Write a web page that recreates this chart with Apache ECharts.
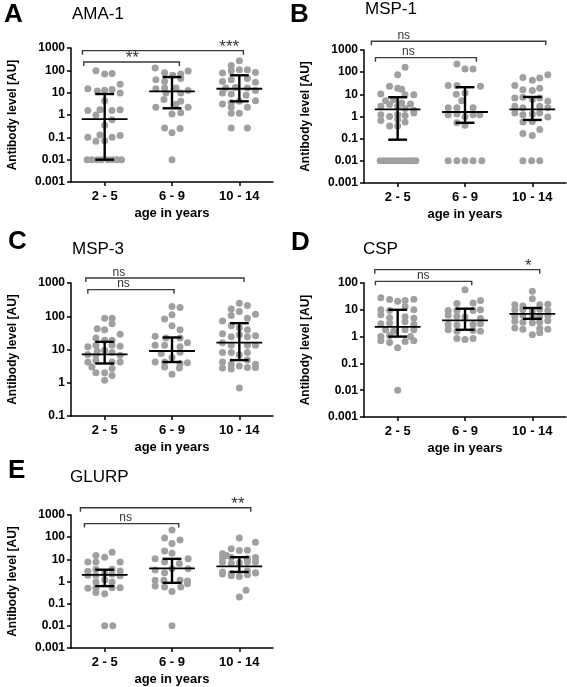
<!DOCTYPE html>
<html><head><meta charset="utf-8">
<script src="https://cdn.jsdelivr.net/npm/echarts@6/dist/echarts.min.js"></script>
<style>html,body{margin:0;padding:0;background:#fff}#c{width:567px;height:687px}</style>
</head><body><div id="c"></div>
<script>
// ---------- DATA ----------
const categories = ['2 - 5', '6 - 9', '10 - 14'];
const yTitle = 'Antibody level [AU]';
const xTitle = 'age in years';

// points: [beeswarm offset within group, antibody level]
const ama1_25 = [[-0.13,97],[0,69],[0.11,73],[0.23,24],[-0.25,15],[-0.11,12],[0,12.7],[0.11,14],[0.23,9.7],[0,4.4],[-0.25,1.6],[-0.07,1.7],[0.11,1.6],[0.23,1.7],[-0.13,1.0],[0.11,0.62],[0,0.35],[-0.25,0.1],[-0.07,0.126],[0.11,0.1],[0.23,0.12],[-0.13,0.066],[0,0.07],[-0.26,0.01],[-0.19,0.01],[-0.11,0.01],[-0.05,0.01],[0.05,0.01],[0.12,0.01],[0.18,0.01],[0.25,0.01]];
const ama1_69 = [[-0.25,126],[-0.11,78],[0.01,60],[0.13,69],[0.24,93],[-0.24,38],[-0.11,32],[0.13,43],[-0.24,15],[-0.11,16],[0.06,16],[0.24,12.6],[-0.09,9.7],[0.13,9.7],[-0.12,5.0],[0.13,4.1],[0.06,3.0],[-0.24,2.2],[0.24,2.2],[0,1.1],[0.13,1.25],[-0.11,0.26],[0,0.16],[0.12,0.25],[0,0.01]];
const ama1_1014 = [[0,270],[-0.12,166],[-0.25,76],[-0.12,97],[0,107],[0.12,107],[0.24,81],[-0.25,32],[-0.12,38],[0.12,43],[0.24,29],[-0.2,16],[-0.06,17],[0.12,16],[0.24,12.6],[-0.25,9.7],[-0.12,8.7],[0.1,7.6],[-0.25,3.1],[-0.12,3.5],[0,4.1],[0.24,4.4],[-0.12,2.2],[0.12,2.2],[-0.12,1.2],[0,1.2],[-0.12,0.26],[0.12,0.26]];
const ama1_stats = [[0.01,0.66,8.7],[2.0,11.5,50],[4.1,15,60]];   // [Q1, median, Q3]
const ama1_sig = [[-0.31,1.11,236,'**',0.41],[-0.33,2.06,760,'***',1.85]]; // [from, to, level, label, labelPos]

const msp1_25 = [[0.11,167],[0,76],[-0.12,23],[0,19],[0.06,17],[-0.25,10.3],[0.11,9.7],[0.24,9.7],[-0.18,5.2],[-0.06,5.7],[0.06,4.1],[0.19,3.7],[-0.25,2.9],[-0.12,3.5],[0,2.9],[0.11,2.3],[0.24,1.9],[-0.25,1.2],[-0.12,1.0],[0,1.2],[0.11,1.1],[0.24,1.45],[-0.25,0.66],[0,0.74],[0.11,0.57],[-0.12,0.37],[0,0.37],[-0.26,0.01],[-0.2,0.01],[-0.14,0.01],[-0.08,0.01],[-0.02,0.01],[0.04,0.01],[0.1,0.01],[0.16,0.01],[0.22,0.01],[0.27,0.01]];
const msp1_69 = [[-0.12,236],[0,140],[0.12,140],[-0.25,25],[-0.12,25],[0.23,23],[0,11.5],[-0.13,10],[-0.05,5.2],[-0.25,2.5],[-0.12,2.5],[0.12,2.5],[0.22,1.2],[-0.25,1.2],[-0.12,1.3],[0.12,1.2],[0,1.0],[-0.12,0.52],[0,0.4],[-0.25,0.01],[-0.12,0.01],[0,0.01],[0.12,0.01],[0.25,0.01]];
const msp1_1014 = [[0.23,76],[-0.14,58],[0,43],[0.11,54],[-0.26,25],[-0.14,16],[0,15],[0.11,19],[-0.26,6.9],[-0.14,7.4],[0,5.8],[0.11,6.9],[0.23,4.9],[-0.26,2.9],[-0.14,2.5],[0.11,2.9],[0.23,2.5],[-0.26,1.45],[-0.14,1.2],[0,1.3],[0.11,1.45],[0.23,0.94],[-0.14,0.57],[0,0.6],[0.11,0.26],[-0.14,0.17],[0,0.14],[-0.14,0.01],[-0.01,0.01],[0.11,0.01]];
const msp1_stats = [[0.09,2.1,7.4],[0.52,1.6,21],[0.7,2.1,7.6]];
const msp1_sig = [[-0.33,1.17,452,'ns',0.16],[-0.39,2.2,2500,'ns',0.09]];

const msp3_25 = [[0,87],[0.11,87],[0.11,59],[-0.11,42],[0,39],[0.23,29],[-0.13,22],[0,19],[0.11,19],[-0.25,12],[-0.13,13.5],[0.11,13.5],[0.23,12.5],[-0.11,8.9],[0,9.5],[0.11,8.1],[-0.25,7.1],[-0.13,6.7],[0.23,6.7],[-0.25,4.2],[-0.13,4.7],[0.11,4.2],[0.23,4.2],[-0.19,3.0],[0.11,2.7],[-0.13,2.0],[0,2.0],[0.11,1.66],[0,1.18]];
const msp3_69 = [[0,196],[0.12,182],[-0.11,83],[0,110],[0,52],[0.12,39],[-0.25,25],[-0.09,22],[0.12,22],[-0.25,13.5],[-0.11,13.5],[0.12,12],[0.23,16],[-0.16,7.6],[0.12,8.3],[-0.25,4.2],[-0.11,4.2],[0,5.7],[0.12,3.8],[0.23,4.0],[-0.11,3.0],[0.11,2.8],[0,1.8]];
const msp3_1014 = [[0,246],[0.12,210],[-0.12,166],[0,138],[-0.25,72],[-0.12,105],[0.12,87],[0.24,115],[-0.12,52],[0,45],[0.12,39],[-0.25,30],[-0.12,24],[0,28],[0.12,24],[0.24,26],[-0.25,16],[-0.12,13.5],[0.12,13.5],[0.24,13.5],[-0.25,8.1],[-0.12,8.1],[0.12,8.1],[0,7],[-0.25,4.2],[-0.12,3.6],[0.12,4.8],[0.24,3.6],[-0.25,2.8],[-0.12,2.6],[0,3.2],[0.12,2.9],[0.24,2.9],[0,0.7]];
const msp3_stats = [[3.8,7.1,17],[4.2,9.0,23],[4.8,16,62]];
const msp3_sig = [[-0.25,1.03,630,'ns',0.28],[-0.28,2.07,1420,'ns',0.21]];

const csp_25 = [[-0.25,28],[-0.12,24],[0,21],[0.11,22],[0.24,25],[-0.25,10],[-0.12,9.5],[0.11,13],[0.24,10],[-0.25,6.6],[-0.12,5],[0.11,5.5],[0.24,4.8],[-0.25,3.0],[-0.12,3.2],[0.11,3.6],[0.24,2.8],[-0.18,1.8],[-0.06,1.6],[0.11,1.8],[0.24,1.8],[-0.25,1.0],[-0.12,1.1],[0.19,1.0],[-0.25,0.7],[-0.12,0.6],[0.11,0.65],[0.24,0.7],[0,0.38],[0,0.01]];
const csp_69 = [[0,56],[-0.12,17],[0.12,18],[0.23,22],[-0.25,9.4],[-0.12,9.4],[0.12,9.4],[0.23,10],[-0.25,6.3],[-0.12,5.8],[0,5.4],[0.23,4.7],[-0.25,2.8],[-0.12,2.7],[0.12,2.8],[0.23,3.0],[-0.25,1.8],[-0.12,1.6],[0.12,1.7],[0.23,1.6],[-0.12,0.85],[0,0.78],[0.12,0.85]];
const csp_1014 = [[0,49],[0,26],[-0.26,15.5],[-0.14,14],[0.11,15.5],[0.23,16],[-0.26,10],[-0.14,10.5],[0,9],[0.11,10.5],[0.23,9.4],[-0.26,5.7],[-0.14,6.3],[0.11,5.7],[0.23,6.1],[0,5.5],[-0.26,3.7],[-0.14,3.4],[0,3.3],[0.11,3.4],[0.23,3.9],[-0.26,2.1],[-0.14,1.9],[0.11,2.0],[0.23,1.9],[0,1.17],[0.11,1.4]];
const csp_stats = [[1.0,2.3,10],[1.8,4.0,11],[4.6,7,11.7]];
const csp_sig = [[-0.33,1.1,115,'ns',0.38],[-0.34,2.11,315,'*',1.94]];

const glurp_25 = [[0.11,21],[-0.13,15],[0,12.5],[-0.25,7.5],[-0.13,7.5],[0.23,7.5],[-0.25,2.9],[-0.13,3.6],[0.11,3.6],[0.23,3.0],[-0.25,1.9],[-0.13,1.9],[0.11,2.1],[0.23,1.8],[0,2.3],[-0.13,0.96],[0.11,0.96],[0,1.2],[-0.25,0.49],[-0.13,0.52],[0.11,0.52],[0.23,0.52],[-0.13,0.32],[0,0.28],[0,0.01],[0.12,0.01]];
const glurp_69 = [[0,209],[-0.11,91],[0.12,74],[0,52],[-0.11,24],[0,19],[-0.25,10.5],[0.24,10.5],[-0.11,7.5],[0.11,6.5],[0,3.8],[-0.25,3.3],[-0.11,2.5],[0.24,3.8],[-0.25,1.15],[-0.12,1.15],[0.12,1.15],[0.23,1.05],[-0.25,0.63],[-0.11,0.57],[0,0.35],[0.13,0.57],[0.23,0.8],[0,0.01]];
const glurp_1014 = [[0,91],[0.24,59],[-0.25,18],[-0.12,30],[0,25],[0.12,26],[-0.19,15],[0.24,12],[-0.25,12],[-0.12,12],[0.12,11],[0.24,7.5],[-0.25,7.5],[-0.12,6.5],[0,7],[0.12,7.5],[-0.25,2.7],[-0.12,2.3],[0.12,3.0],[0.24,2.5],[-0.25,2.2],[-0.12,1.8],[0,1.7],[0.12,2.0],[0.24,2.4],[0.1,0.4],[0,0.2]];
const glurp_stats = [[0.62,2.0,3.4],[0.87,3.9,10.5],[2.7,4.8,12.5]];
const glurp_sig = [[-0.3,1.1,410,'ns',0.31],[-0.36,2.17,2120,'**',1.98]];

// ---------- LAYOUT ----------
const FONT = 'Liberation Sans, Arial, Helvetica, sans-serif';
const panels = [
  {letter:'A', title:'AMA-1', groups:[ama1_25,ama1_69,ama1_1014], stats:ama1_stats, sig:ama1_sig, yMin:0.001, yMax:1000,
   left:71, top:48, height:134, lx:4, ly:16, tx:72, ty:16},
  {letter:'B', title:'MSP-1', groups:[msp1_25,msp1_69,msp1_1014], stats:msp1_stats, sig:msp1_sig, yMin:0.001, yMax:1000,
   left:364, top:50, height:133, lx:290, ly:16, tx:365, ty:11},
  {letter:'C', title:'MSP-3', groups:[msp3_25,msp3_69,msp3_1014], stats:msp3_stats, sig:msp3_sig, yMin:0.1, yMax:1000,
   left:71, top:283, height:133, lx:8, ly:243, tx:72, ty:251},
  {letter:'D', title:'CSP', groups:[csp_25,csp_69,csp_1014], stats:csp_stats, sig:csp_sig, yMin:0.001, yMax:100,
   left:364, top:283, height:134, lx:291, ly:244, tx:363, ty:251},
  {letter:'E', title:'GLURP', groups:[glurp_25,glurp_69,glurp_1014], stats:glurp_stats, sig:glurp_sig, yMin:0.001, yMax:1000,
   left:71, top:515, height:133, lx:8, ly:472, tx:70, ty:479}
];
const PW = 202;

const grid = [], xAxis = [], yAxis = [], series = [], graphic = [];
panels.forEach((p, i) => {
  grid.push({left:p.left, top:p.top, width:PW, height:p.height, containLabel:false});
  xAxis.push({
    type:'category', gridIndex:i, data:categories, boundaryGap:true,
    axisLine:{show:true, onZero:false, lineStyle:{color:'#000', width:1.5}},
    axisTick:{show:true, alignWithLabel:true, length:4, lineStyle:{color:'#000', width:1.5}},
    axisLabel:{color:'#000', fontWeight:'bold', fontSize:13, fontFamily:FONT, margin:8},
    splitLine:{show:false},
    name:xTitle, nameLocation:'middle', nameGap:25,
    nameTextStyle:{color:'#000', fontWeight:'bold', fontSize:13, fontFamily:FONT}
  });
  xAxis.push({type:'value', gridIndex:i, min:-0.5, max:2.5, show:false});
  yAxis.push({
    type:'log', gridIndex:i, logBase:10, min:p.yMin, max:p.yMax,
    axisLine:{show:true, onZero:false, lineStyle:{color:'#000', width:1.5}},
    axisTick:{show:true, length:4, lineStyle:{color:'#000', width:1.5}},
    axisLabel:{color:'#000', fontWeight:'bold', fontSize:12, fontFamily:FONT, margin:6,
      formatter: v => String(parseFloat(Number(v).toPrecision(3)))},
    splitLine:{show:false}, minorTick:{show:false},
    name:yTitle, nameLocation:'middle', nameGap:52, nameRotate:90,
    nameTextStyle:{color:'#000', fontWeight:'bold', fontSize:12, fontFamily:FONT}
  });
  const pts = [];
  p.groups.forEach((g, gi) => g.forEach(d => pts.push([gi + d[0], d[1]])));
  series.push({
    type:'scatter', xAxisIndex:2*i+1, yAxisIndex:i, data:pts, symbol:'circle', symbolSize:7,
    itemStyle:{color:'#a0a0a0', opacity:1}, silent:true, z:2
  });
  series.push({
    type:'custom', xAxisIndex:2*i+1, yAxisIndex:i, silent:true, z:5, clip:false,
    data:p.stats.map((s, gi) => [gi, s[0], s[1], s[2]]),
    encode:{x:0, y:[1,2,3]},
    renderItem:(params, api) => {
      const g = api.value(0), q1 = api.value(1), med = api.value(2), q3 = api.value(3);
      const a = api.coord([g - 0.34, med]), b = api.coord([g + 0.34, med]);
      const l1 = api.coord([g, q1]), l3 = api.coord([g, q3]);
      const w = api.coord([g + 0.14, q1])[0] - l1[0];
      const st = {stroke:'#000', lineWidth:2.4};
      return {type:'group', children:[
        {type:'line', shape:{x1:a[0], y1:a[1], x2:b[0], y2:b[1]}, style:{stroke:'#000', lineWidth:1.8}},
        {type:'line', shape:{x1:l1[0], y1:l1[1], x2:l3[0], y2:l3[1]}, style:st},
        {type:'line', shape:{x1:l1[0]-w, y1:l1[1], x2:l1[0]+w, y2:l1[1]}, style:st},
        {type:'line', shape:{x1:l3[0]-w, y1:l3[1], x2:l3[0]+w, y2:l3[1]}, style:st}
      ]};
    }
  });
  series.push({
    type:'custom', xAxisIndex:2*i+1, yAxisIndex:i, silent:true, z:5, clip:false,
    data:p.sig.map(s => [s[0], s[1], s[2], s[4]]),
    encode:{x:[0,1,3], y:2},
    renderItem:(params, api) => {
      const x1 = api.value(0), x2 = api.value(1), lv = api.value(2), lx = api.value(3);
      const p1 = api.coord([x1, lv]), p2 = api.coord([x2, lv]), pl = api.coord([lx, lv]);
      const lab = p.sig[params.dataIndex][3];
      const star = lab.indexOf('*') >= 0;
      return {type:'group', children:[
        {type:'polyline', shape:{points:[[p1[0], p1[1]+4],[p1[0], p1[1]],[p2[0], p2[1]],[p2[0], p2[1]+4]]},
         style:{stroke:'#3a3a3a', lineWidth:1.4, fill:null}},
        {type:'text', x:pl[0], y: star ? p1[1] + 5 : p1[1] + 0.5,
         style:{text:lab, align:'center', verticalAlign:'bottom', fill:'#333',
                fontSize: star ? 17 : 12, fontFamily:FONT}}
      ]};
    }
  });
  graphic.push({type:'text', left:p.lx, top:p.ly - 14, style:{text:p.letter, fill:'#000', font:'bold 26px ' + FONT}});
  graphic.push({type:'text', left:p.tx, top:p.ty - 10, style:{text:p.title, fill:'#000', font:'17px ' + FONT}});
});

const chart = echarts.init(document.getElementById('c'), null, {renderer:'canvas'});
chart.setOption({animation:false, backgroundColor:'#fff', grid, xAxis, yAxis, series, graphic});
</script>
</body></html>
